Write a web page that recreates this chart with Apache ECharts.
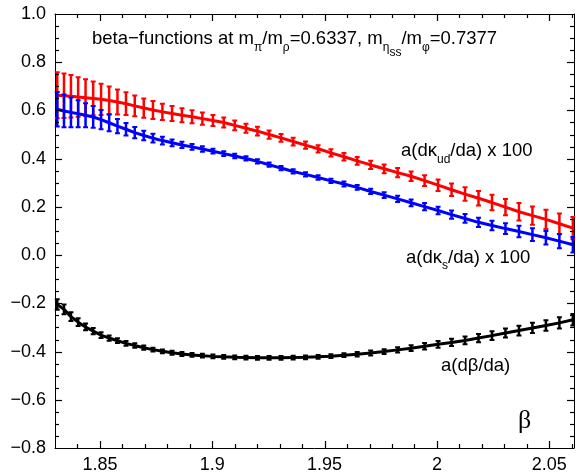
<!DOCTYPE html>
<html>
<head>
<meta charset="utf-8">
<script src="https://cdn.jsdelivr.net/npm/echarts@6/dist/echarts.min.js"></script>
<style>html,body{margin:0;padding:0;background:#fff;}#c{width:576px;height:474px;}</style>
</head>
<body>
<div id="c"></div>
<script>
// beta values (x)
const beta = [1.8310,1.8340,1.8371,1.8403,1.8436,1.8470,1.8505,1.8541,1.8578,1.8616,1.8655,1.8695,1.8736,1.8778,1.8821,1.8865,1.8910,1.8956,1.9003,1.9051,1.9100,1.9150,1.9201,1.9253,1.9306,1.9360,1.9415,1.9471,1.9528,1.9586,1.9645,1.9705,1.9765,1.9825,1.9885,1.9945,2.0005,2.0065,2.0125,2.0185,2.0245,2.0305,2.0365,2.0425,2.0485,2.0545,2.0605];
// a(dkappa_ud/da) x 100
const kudVal = [0.663,0.661,0.659,0.656,0.653,0.650,0.646,0.641,0.635,0.628,0.619,0.610,0.602,0.594,0.587,0.580,0.574,0.566,0.558,0.550,0.538,0.526,0.514,0.500,0.486,0.471,0.456,0.441,0.424,0.408,0.391,0.374,0.358,0.342,0.327,0.309,0.290,0.271,0.253,0.236,0.218,0.199,0.180,0.164,0.148,0.130,0.112];
const kudErr = [0.095,0.092,0.088,0.082,0.076,0.070,0.065,0.058,0.052,0.047,0.043,0.040,0.037,0.034,0.031,0.029,0.027,0.025,0.023,0.021,0.020,0.019,0.018,0.017,0.016,0.016,0.015,0.015,0.015,0.016,0.016,0.017,0.018,0.019,0.020,0.022,0.024,0.026,0.028,0.030,0.032,0.034,0.036,0.038,0.040,0.043,0.046];
// a(dkappa_s/da) x 100
const ksVal = [0.605,0.598,0.592,0.586,0.580,0.573,0.562,0.549,0.535,0.522,0.508,0.496,0.485,0.475,0.466,0.457,0.449,0.440,0.431,0.421,0.411,0.401,0.389,0.375,0.361,0.347,0.335,0.322,0.308,0.295,0.281,0.264,0.249,0.233,0.217,0.201,0.185,0.168,0.152,0.136,0.123,0.110,0.098,0.085,0.072,0.058,0.043];
const ksErr = [0.072,0.068,0.062,0.056,0.050,0.045,0.040,0.035,0.030,0.026,0.023,0.020,0.018,0.016,0.014,0.013,0.012,0.011,0.010,0.010,0.009,0.009,0.009,0.009,0.009,0.009,0.009,0.009,0.009,0.010,0.010,0.011,0.012,0.013,0.014,0.015,0.016,0.017,0.018,0.019,0.020,0.022,0.024,0.026,0.028,0.030,0.032];
// a(dbeta/da)
const dbVal = [-0.205,-0.225,-0.255,-0.278,-0.298,-0.315,-0.332,-0.344,-0.355,-0.366,-0.375,-0.384,-0.392,-0.399,-0.405,-0.410,-0.414,-0.417,-0.420,-0.422,-0.424,-0.425,-0.426,-0.426,-0.426,-0.425,-0.424,-0.422,-0.419,-0.415,-0.411,-0.406,-0.400,-0.393,-0.386,-0.378,-0.370,-0.362,-0.354,-0.344,-0.334,-0.323,-0.313,-0.302,-0.292,-0.281,-0.268];
const dbErr = [0.022,0.020,0.018,0.016,0.014,0.013,0.012,0.011,0.010,0.010,0.009,0.009,0.008,0.008,0.008,0.008,0.008,0.008,0.008,0.008,0.008,0.008,0.008,0.008,0.008,0.008,0.008,0.008,0.008,0.008,0.009,0.010,0.010,0.011,0.012,0.013,0.014,0.015,0.016,0.017,0.018,0.019,0.020,0.021,0.022,0.023,0.024];
// tick values
const xMajorTicks = [1.85, 1.90, 1.95, 2.00, 2.05];
const xMinorTicks = [1.84, 1.86, 1.87, 1.88, 1.89, 1.91, 1.92, 1.93, 1.94, 1.96, 1.97, 1.98, 1.99, 2.01, 2.02, 2.03, 2.04, 2.06];
const yMajorTicks = [-0.6, -0.4, -0.2, 0.0, 0.2, 0.4, 0.6, 0.8];
const yMinorTicks = [-0.75, -0.7, -0.65, -0.55, -0.5, -0.45, -0.35, -0.3, -0.25, -0.15, -0.1, -0.05, 0.05, 0.1, 0.15, 0.25, 0.3, 0.35, 0.45, 0.5, 0.55, 0.65, 0.7, 0.75, 0.85, 0.9, 0.95];

const XMIN = 1.83, XMAX = 2.061, YMIN = -0.8, YMAX = 1.0;
const FONT = 'Liberation Sans, Arial, Helvetica, sans-serif';
const CAP = 0.0011;

const chart = echarts.init(document.getElementById('c'));

function pts(v){ return beta.map((b,i)=>[b, v[i]]); }
function barPts(v, e){
  const out = [];
  beta.forEach((b,i)=>{ out.push([b, v[i]-e[i]], [b, v[i]+e[i]], [b, '-']); });
  return out;
}
function capPts(v, e){
  const out = [];
  beta.forEach((b,i)=>{
    out.push([b-CAP, v[i]+e[i]], [b+CAP, v[i]+e[i]], [b, '-']);
    out.push([b-CAP, v[i]-e[i]], [b+CAP, v[i]-e[i]], [b, '-']);
  });
  return out;
}
// tick data: [value, kind(0 = x tick, 1 = y tick), length in px]
const tickData = [];
xMajorTicks.forEach(v => tickData.push([v, 0, 7]));
xMinorTicks.forEach(v => tickData.push([v, 0, 4]));
yMajorTicks.forEach(v => tickData.push([v, 1, 7]));
yMinorTicks.forEach(v => tickData.push([v, 1, 4]));

function tickRender(params, api){
  const v = api.value(0), kind = api.value(1), L = api.value(2);
  const st = {stroke:'#000', lineWidth:1.2};
  if (kind === 0) {
    const b = api.coord([v, YMIN]), t = api.coord([v, YMAX]);
    const x = Math.round(b[0]) + 0.5;
    return {type:'group', children:[
      {type:'line', shape:{x1:x, y1:b[1], x2:x, y2:b[1]-L}, style:st},
      {type:'line', shape:{x1:x, y1:t[1], x2:x, y2:t[1]+L}, style:st}
    ]};
  }
  const l = api.coord([XMIN, v]), r = api.coord([XMAX, v]);
  const y = Math.round(l[1]) + 0.5;
  return {type:'group', children:[
    {type:'line', shape:{x1:l[0], y1:y, x2:l[0]+L, y2:y}, style:st},
    {type:'line', shape:{x1:r[0], y1:y, x2:r[0]-L, y2:y}, style:st}
  ]};
}

function lineSeries(data, color, w){
  return {type:'line', data:data, showSymbol:false, symbol:'none', connectNulls:false, clip:false,
    lineStyle:{color:color, width:w}, itemStyle:{color:color}, z:3, silent:true};
}
function axLine(){ return {show:true, onZero:false, lineStyle:{color:'#000', width:1}}; }

function richN(fs){ return {fontFamily:FONT, fontSize:fs, fontWeight:'normal', lineHeight:20, verticalAlign:'top', color:'#000'}; }
function richS(pad){ return {fontFamily:FONT, fontSize:12, fontWeight:'normal', lineHeight:12, verticalAlign:'top', padding:[pad,0,0,0], color:'#000'}; }

const option = {
  animation:false,
  grid:{left:55, right:2, top:14, bottom:25},
  title:[
    {left:92, top:29, padding:0, text:'{n|beta\u2212functions at m}{s|\u03c0}{n|/m}{s|\u03c1}{n|=0.6337, m}{s|\u03b7}{ss|ss}{n|/m}{s|\u03c6}{n|=0.7377}',
      textStyle:{fontWeight:'normal', rich:{n:richN(18.5), s:richS(13), ss:richS(18)}}},
    {left:401, top:141, padding:0, text:'{n|a(d\u03ba}{s|ud}{n|/da) x 100}',
      textStyle:{fontWeight:'normal', rich:{n:richN(18.5), s:richS(13)}}},
    {left:406, top:248, padding:0, text:'{n|a(d\u03ba}{s|s}{n|/da) x 100}',
      textStyle:{fontWeight:'normal', rich:{n:richN(18.5), s:richS(12)}}},
    {left:441, top:356, padding:0, text:'{n|a(d\u03b2/da)}',
      textStyle:{fontWeight:'normal', rich:{n:richN(18.5)}}},
    {left:518, top:408, padding:0, text:'\u03b2',
      textStyle:{fontFamily:'Liberation Serif, Times New Roman, serif', fontSize:26, fontWeight:'normal', color:'#000'}}
  ],
  xAxis:[
    {type:'value', min:XMIN, max:XMAX, position:'bottom',
      axisLine:axLine(), splitLine:{show:false}, axisTick:{show:false}, minorTick:{show:false},
      axisLabel:{color:'#000', fontFamily:FONT, fontSize:18, margin:8, showMinLabel:false, showMaxLabel:false,
        formatter:function(v){ return String(parseFloat(v.toFixed(4))); }}
    },
    {type:'value', min:XMIN, max:XMAX, position:'top',
      axisLine:axLine(), splitLine:{show:false}, axisTick:{show:false}, minorTick:{show:false}, axisLabel:{show:false}
    }
  ],
  yAxis:[
    {type:'value', min:YMIN, max:YMAX, interval:0.2, position:'left',
      axisLine:axLine(), splitLine:{show:false}, axisTick:{show:false}, minorTick:{show:false},
      axisLabel:{color:'#000', fontFamily:FONT, fontSize:18, margin:9,
        formatter:function(v){ return v.toFixed(1).replace('-', '\u2212'); }}
    },
    {type:'value', min:YMIN, max:YMAX, interval:0.2, position:'right',
      axisLine:axLine(), splitLine:{show:false}, axisTick:{show:false}, minorTick:{show:false}, axisLabel:{show:false}
    }
  ],
  series:[
    {type:'custom', data:tickData, renderItem:tickRender, encode:{x:-1, y:-1}, clip:false, silent:true, z:10},
    lineSeries(pts(kudVal), '#ff0000', 3), lineSeries(barPts(kudVal, kudErr), '#ff0000', 2.5), lineSeries(capPts(kudVal, kudErr), '#ff0000', 2),
    lineSeries(pts(ksVal), '#0000ff', 3), lineSeries(barPts(ksVal, ksErr), '#0000ff', 2.5), lineSeries(capPts(ksVal, ksErr), '#0000ff', 2),
    lineSeries(pts(dbVal), '#000000', 3), lineSeries(barPts(dbVal, dbErr), '#000000', 2.5), lineSeries(capPts(dbVal, dbErr), '#000000', 2)
  ]
};
chart.setOption(option);
</script>
</body>
</html>
